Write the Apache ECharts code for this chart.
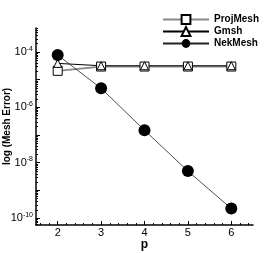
<!DOCTYPE html>
<html>
<head>
<meta charset="utf-8">
<script src="https://cdn.jsdelivr.net/npm/echarts@6/dist/echarts.min.js"></script>
<style>html,body{margin:0;padding:0;background:#fff;}#c{width:273px;height:253px;}</style>
</head>
<body>
<div id="c"></div>
<script>
const pValues = [2, 3, 4, 5, 6];
const projMesh = [2.1e-5, 3.0e-5, 3.0e-5, 3.0e-5, 3.0e-5];
const gmsh = [3.9e-5, 3.2e-5, 3.2e-5, 3.2e-5, 3.2e-5];
const nekMesh = [7.8e-5, 4.9e-6, 1.5e-7, 5.0e-9, 2.2e-10];
const yLabelExps = [-10, -8, -6, -4];
const yMajorExps = [-10, -9, -8, -7, -6, -5, -4];
const xMajor = [2, 3, 4, 5, 6];

const yMin = -10.25, yMax = -3.13;
const yMinor = [];
for (let e = -11; e <= -3; e++) {
  for (let k = 2; k <= 9; k++) {
    const v = Math.log10(k) + e;
    if (v > yMin && v < yMax) yMinor.push(v);
  }
}
const xMinor = [];
for (let v = 1.6; v < 6.5; v += 0.2) {
  const r = Math.round(v * 10) / 10;
  if (Math.abs(r - Math.round(r)) > 1e-6) xMinor.push(r);
}
const toPts = arr => arr.map((v, i) => [pValues[i], Math.log10(v)]);

const font = '"Liberation Sans", Arial, sans-serif';
const chart = echarts.init(document.getElementById('c'), null, {renderer: 'canvas'});
chart.setOption({
  animation: false,
  backgroundColor: '#fff',
  grid: {left: 36, top: 28, right: 20, bottom: 28, containLabel: false, outerBoundsMode: 'none'},
  legend: {
    orient: 'vertical', left: 162, top: 14, itemGap: 1, padding: 0,
    itemWidth: 46, itemHeight: 11,
    textStyle: {fontFamily: font, fontWeight: 'bold', fontSize: 10, lineHeight: 11, color: '#000', padding: [0,0,0,0]},
    data: ['ProjMesh', 'Gmsh', 'NekMesh']
  },
  xAxis: [{
    type: 'value', min: 1.5, max: 6.5,
    name: 'p', nameLocation: 'middle', nameGap: 14, nameMoveOverlap: false,
    nameTextStyle: {fontFamily: font, fontWeight: 'bold', fontSize: 12, color: '#000'},
    axisLine: {show: true, lineStyle: {color: '#000', width: 1.5}},
    axisTick: {show: true, inside: true, length: 4, customValues: xMajor, lineStyle: {color: '#000', width: 1}},
    axisLabel: {customValues: xMajor, fontFamily: font, fontSize: 11, color: '#000', margin: 2},
    splitLine: {show: false}
  }, {
    type: 'value', min: 1.5, max: 6.5, position: 'bottom',
    axisLine: {show: false},
    axisTick: {show: true, inside: true, length: 2, customValues: xMinor, lineStyle: {color: '#000', width: 1}},
    axisLabel: {show: false},
    splitLine: {show: false}
  }],
  yAxis: [{
    type: 'value', min: yMin, max: yMax,
    name: 'log (Mesh Error)', nameLocation: 'middle', nameGap: 24, nameRotate: 90, nameMoveOverlap: false,
    nameTextStyle: {fontFamily: font, fontWeight: 'bold', fontSize: 10, color: '#000'},
    axisLine: {show: true, lineStyle: {color: '#000', width: 1.5}},
    axisTick: {show: true, inside: true, length: 4, customValues: yMajorExps, lineStyle: {color: '#000', width: 1}},
    axisLabel: {
      customValues: yLabelExps, margin: 3,
      formatter: v => '{b|10}{s|' + Math.round(v) + '}',
      rich: {
        b: {fontFamily: font, fontSize: 11, color: '#000'},
        s: {fontFamily: font, fontSize: 7, color: '#000', padding: [0, 0, 7, 0]}
      }
    },
    splitLine: {show: false}
  }, {
    type: 'value', min: yMin, max: yMax, position: 'left',
    axisLine: {show: false},
    axisTick: {show: true, inside: true, length: 2, customValues: yMinor, lineStyle: {color: '#000', width: 1}},
    axisLabel: {show: false},
    splitLine: {show: false}
  }],
  series: [{
    name: 'ProjMesh', type: 'line', data: toPts(projMesh),
    symbol: 'rect', symbolSize: 9,
    lineStyle: {color: '#888', width: 1.8},
    itemStyle: {color: '#fff', borderColor: '#000', borderWidth: 1}
  }, {
    name: 'Gmsh', type: 'line', data: toPts(gmsh),
    symbol: 'triangle', symbolSize: 8,
    lineStyle: {color: '#000', width: 1},
    itemStyle: {color: '#fff', borderColor: '#000', borderWidth: 1}
  }, {
    name: 'NekMesh', type: 'line', data: toPts(nekMesh),
    symbol: 'circle', symbolSize: 12,
    lineStyle: {color: '#222', width: 0.8},
    itemStyle: {color: '#000', borderColor: '#000', borderWidth: 0}
  }]
});
</script>
</body>
</html>
